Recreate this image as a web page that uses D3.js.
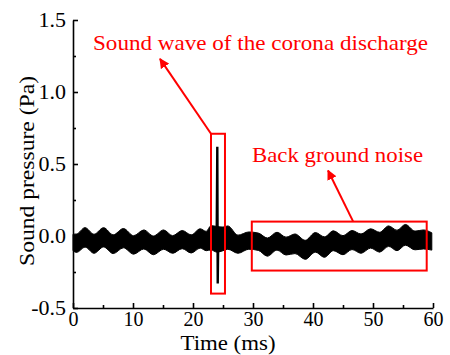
<!DOCTYPE html>
<html>
<head>
<meta charset="utf-8">
<script src="https://cdn.jsdelivr.net/npm/d3@7/dist/d3.min.js"></script>
<style>
  html, body { margin: 0; padding: 0; background: #fff; }
  svg { display: block; }
  text { font-family: "Liberation Serif", "Times New Roman", Times, serif; }
</style>
</head>
<body>
<svg id="chart" width="450" height="355"></svg>
<script>
// Envelope of the recorded sound pressure signal (ms, Pa): extrema of the band
const envT = [0.0, 0.6, 2.0, 3.5, 5.1, 6.7, 8.4, 10.1, 11.8, 13.4, 15.1, 16.6, 18.2, 19.7, 21.2, 22.2, 23.0, 24.0, 25.0, 25.8, 27.5, 29.3,
              30.9, 32.4, 34.0, 35.5, 37.0, 38.7, 40.4, 41.9, 43.4, 45.0, 46.5, 48.0, 49.6, 51.1, 52.6, 54.0, 55.4, 57.0, 58.4, 59.8];
const envUpper = [0.012, 0.014, 0.058, 0.012, 0.058, 0.008, 0.052, 0.002, 0.042, 0.000, 0.042, 0.002, 0.038, 0.008, 0.050, 0.032, 0.072, 0.066, 0.062, 0.070, 0.006, 0.028,
                  0.020, -0.014, 0.026, -0.008, 0.014, -0.030, 0.024, -0.006, 0.036, 0.002, 0.038, 0.014, 0.050, 0.026, 0.070, 0.040, 0.080, 0.034, 0.042, 0.022];
const envLower = [-0.102, -0.114, -0.077, -0.120, -0.076, -0.122, -0.082, -0.126, -0.090, -0.130, -0.092, -0.120, -0.088, -0.118, -0.084, -0.102, -0.097, -0.112, -0.102, -0.092, -0.120, -0.092,
                  -0.100, -0.140, -0.098, -0.132, -0.122, -0.162, -0.112, -0.148, -0.102, -0.130, -0.094, -0.120, -0.084, -0.112, -0.072, -0.102, -0.064, -0.096, -0.090, -0.098];

// Corona discharge pulse (ms, Pa)
const spikeT = [23.95, 24.05, 24.12, 24.2];
const spikeV = [0.00, 0.62, -0.33, -0.05];

// Annotation boxes [t0, t1, v0, v1] and arrows [fromT, fromV, toT, toV]
const pulseBox = [23.0, 25.33, 0.71, -0.40];
const noiseBox = [29.8, 58.95, 0.10, -0.24];
const pulseArrow = [23.0, 0.71, 14.5, 1.23];
const noiseArrow = [46.7, 0.10, 42.5, 0.455];

// Axis ticks
const xTicks = [0, 10, 20, 30, 40, 50, 60];
const xMinorTicks = [5, 15, 25, 35, 45, 55];
const yTicks = [-0.5, 0.0, 0.5, 1.0, 1.5];
const yTickLabels = ["-0.5", "0.0", "0.5", "1.0", "1.5"];
const yMinorTicks = [-0.25, 0.25, 0.75, 1.25];

const svg = d3.select("#chart");
const x = d3.scaleLinear().domain([0, 60]).range([73, 433]);
const y = d3.scaleLinear().domain([-0.5, 1.5]).range([308, 20]);
const red = "#ff0000";
const serif = '"Liberation Serif", "Times New Roman", serif';

// Signal band
const band = envT.map((t, i) => ({ t, u: envUpper[i], l: envLower[i] }));
svg.append("path")
  .datum(band)
  .attr("fill", "#000")
  .attr("stroke", "#000")
  .attr("stroke-width", 1)
  .attr("d", d3.area().x(d => x(d.t)).y0(d => y(d.l)).y1(d => y(d.u)).curve(d3.curveMonotoneX));

// Pulse
svg.append("path")
  .datum(spikeT.map((t, i) => [t, spikeV[i]]))
  .attr("fill", "none")
  .attr("stroke", "#000")
  .attr("stroke-width", 2.4)
  .attr("d", d3.line().x(d => x(d[0])).y(d => y(d[1])));

// Axes
const xAxis = svg.append("g").attr("transform", `translate(0,${y(-0.5)})`)
  .call(d3.axisBottom(x).tickValues(xTicks).tickSize(-5).tickSizeOuter(0).tickPadding(4).tickFormat(d3.format("d")));
svg.append("g").attr("transform", `translate(0,${y(-0.5)})`)
  .call(d3.axisBottom(x).tickValues(xMinorTicks).tickSize(-3).tickSizeOuter(0).tickFormat(""))
  .select(".domain").remove();
const yAxis = svg.append("g").attr("transform", `translate(${x(0)},0)`)
  .call(d3.axisLeft(y).tickValues(yTicks).tickSize(-5).tickSizeOuter(0).tickPadding(7).tickFormat((d, i) => yTickLabels[i]));
svg.append("g").attr("transform", `translate(${x(0)},0)`)
  .call(d3.axisLeft(y).tickValues(yMinorTicks).tickSize(-3).tickSizeOuter(0).tickFormat(""))
  .select(".domain").remove();

svg.selectAll(".domain, .tick line").attr("stroke", "#000").attr("stroke-width", 1.6);
svg.selectAll("g").attr("font-family", serif);
svg.selectAll(".tick text").attr("fill", "#000").style("font-size", "20px").style("font-family", serif);
xAxis.selectAll(".tick text").attr("dy", "0.71em");
yAxis.selectAll(".tick text").attr("textLength", function () { return this.getComputedTextLength() * 1.1; })
  .attr("lengthAdjust", "spacingAndGlyphs");

// Axis titles
svg.append("text").attr("x", 228).attr("y", 350).attr("text-anchor", "middle")
  .attr("textLength", 95).attr("lengthAdjust", "spacingAndGlyphs")
  .style("font-size", "22px").text("Time (ms)");
svg.append("text").attr("transform", `translate(34,171) rotate(-90)`).attr("text-anchor", "middle")
  .attr("textLength", 190).attr("lengthAdjust", "spacingAndGlyphs")
  .style("font-size", "22px").text("Sound pressure (Pa)");

// Annotation boxes
[pulseBox, noiseBox].forEach(b => {
  svg.append("rect")
    .attr("x", x(b[0])).attr("y", y(b[2]))
    .attr("width", x(b[1]) - x(b[0])).attr("height", y(b[3]) - y(b[2]))
    .attr("fill", "none").attr("stroke", red).attr("stroke-width", 2);
});

// Arrows
svg.append("defs").append("marker")
  .attr("id", "head").attr("viewBox", "0 0 10 10").attr("refX", 9).attr("refY", 5)
  .attr("markerWidth", 5).attr("markerHeight", 5).attr("markerUnits", "strokeWidth")
  .attr("orient", "auto")
  .append("path").attr("d", "M0,0 L10,5 L0,10 Z").attr("fill", red);
[pulseArrow, noiseArrow].forEach(a => {
  svg.append("line")
    .attr("x1", x(a[0])).attr("y1", y(a[1])).attr("x2", x(a[2])).attr("y2", y(a[3]))
    .attr("stroke", red).attr("stroke-width", 2).attr("marker-end", "url(#head)");
});

// Annotation labels
svg.append("text").attr("x", 93).attr("y", 50).attr("fill", red)
  .attr("textLength", 335).attr("lengthAdjust", "spacingAndGlyphs")
  .style("font-size", "22px").text("Sound wave of the corona discharge");
svg.append("text").attr("x", 252).attr("y", 162).attr("fill", red)
  .attr("textLength", 171).attr("lengthAdjust", "spacingAndGlyphs")
  .style("font-size", "22px").text("Back ground noise");
</script>
</body>
</html>
